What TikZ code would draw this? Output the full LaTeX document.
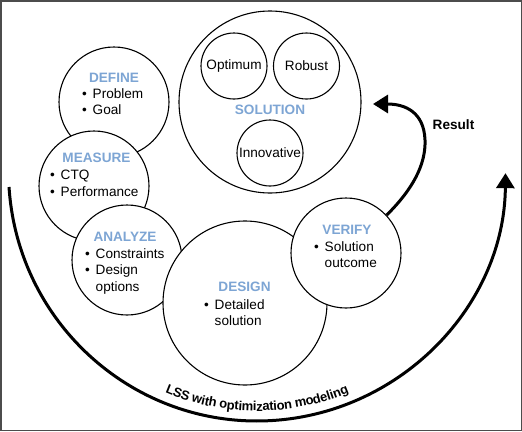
\documentclass[tikz,border=0pt]{standalone}
\usepackage{fontspec}
\setmainfont{Liberation Sans}
\usetikzlibrary{arrows.meta,decorations.text}
\definecolor{steptitle}{RGB}{125,165,212}
\newcommand{\itm}{\makebox[10.5pt][l]{\textbullet}}
\newcommand{\dfont}{\fontsize{13.6pt}{16.5pt}\selectfont}
\newcommand{\lssfont}{\fontsize{13pt}{15pt}\selectfont\bfseries}
\tikzset{
  phase/.style={circle, draw, fill=white, line width=1.1pt, inner sep=0pt},
  ttl/.style={font=\dfont\bfseries, text=steptitle, inner sep=0pt},
  items/.style={font=\dfont, align=left, inner sep=0pt, anchor=north west},
  word/.style={font=\dfont, inner sep=0pt},
  bigarrow/.style={line width=3pt, -{Triangle[length=15pt,width=18pt]}}
}
\begin{document}
\begin{tikzpicture}[x=1pt,y=1pt]
      \useasboundingbox (0,0) rectangle (522,-431);
      \draw[line width=1.5pt, gray!60!black] (0.75,-0.75) rectangle (521.25,-430.25);
      \node[phase, minimum size=182pt] (sol) at (270,-102) {};
      \node[phase, minimum size=66pt] (opt) at (234,-66) {};
      \node[phase, minimum size=66pt] (rob) at (306.5,-66) {};
      \node[phase, minimum size=66pt] (inn) at (270,-153) {};
      \node[phase, minimum size=110pt] (def) at (114,-102) {};
      \node[phase, minimum size=110pt] (mea) at (94,-186) {};
      \node[phase, minimum size=110pt] (ana) at (127,-260) {};
      \node[phase, minimum size=164pt] (des) at (245,-303) {};
      \node[phase, minimum size=110pt] (ver) at (346,-253) {};
      \node[word] (optT) at (opt) {Optimum};
      \node[word] (robT) at (rob) {Robust};
      \node[word] (innT) at (inn) {Innovative};
      \node[ttl] (solT) at (270,-110) {SOLUTION};
      \node[ttl] (defT) at (114,-77.5) {DEFINE};
      \node[items] (defL) at (82,-88) {\itm Problem\\\itm Goal};
      \node[ttl] (meaT) at (96.5,-158) {MEASURE};
      \node[items] (meaL) at (50,-170) {\itm CTQ\\\itm Performance};
      \node[ttl] (anaT) at (125,-237) {ANALYZE};
      \node[items] (anaL) at (85,-248) {\itm Constraints\\\itm Design\\\hspace*{10.5pt}options};
      \node[ttl] (desT) at (244.5,-287) {DESIGN};
      \node[items] (desL) at (204,-299) {\itm Detailed\\\hspace*{10.5pt}solution};
      \node[ttl] (verT) at (347,-229.5) {VERIFY};
      \node[items] (verL) at (314,-241) {\itm Solution\\\hspace*{10.5pt}outcome};
      \node[word, font=\dfont\bfseries] (res) at (453.5,-124.5) {Result};
      \coordinate (resEnd) at (373,-104);
      \coordinate (lssStart) at ({257+248.5*cos(183.67)},{-171+250*sin(183.67)});
      \coordinate (lssText) at ({257+248.5*cos(225)},{-171+250*sin(225)});
      \draw[bigarrow] (ver.43) .. controls (412,-190) and (426,-165) .. (425,-140)
            .. controls (424,-112) and (405,-104) .. (resEnd);
      \draw[bigarrow] (lssStart) arc[start angle=183.67, end angle=359.5, x radius=248.5, y radius=250];
      \path[decorate, decoration={text along path, text={|\lssfont|LSS with optimization modeling},
            text align=center, raise=10pt}] (lssText) arc[start angle=225, end angle=315, x radius=248.5, y radius=250];
    \end{tikzpicture}
\end{document}
